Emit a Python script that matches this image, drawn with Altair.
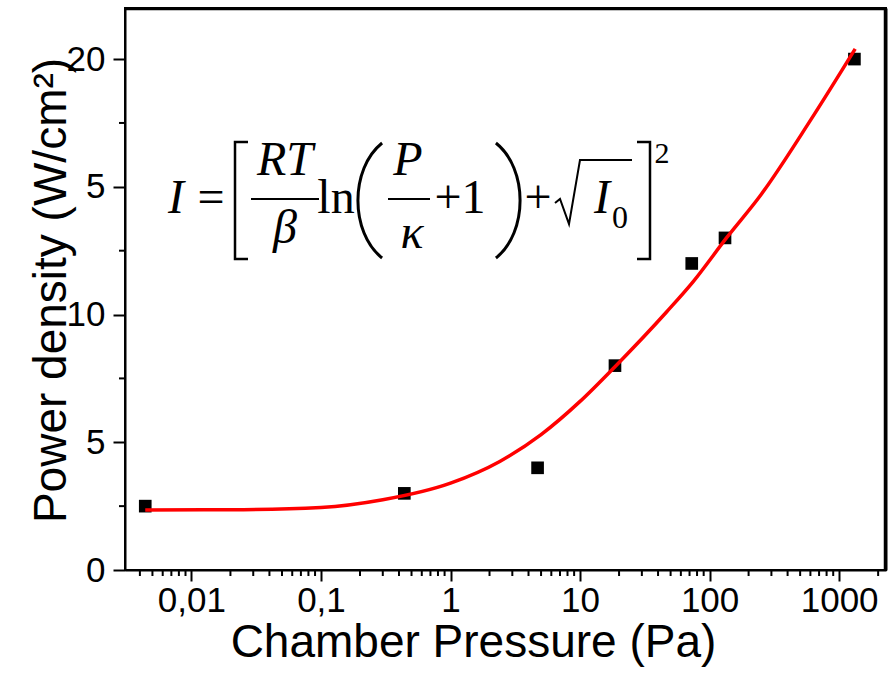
import altair as alt
import pandas as pd

# ---- measured data points ----
pressure = [0.0044, 0.44, 4.7, 18.6, 72.8, 131.5, 1312]
power = [2.5, 3.0, 4.0, 8.0, 12.0, 13.0, 20.0]

# ---- fitted curve ----
fit_pressure = [0.0044, 0.02, 0.1, 0.3, 1, 2.4, 5, 10, 18.6, 46.5, 75, 135, 250, 600, 1330]
fit_power = [2.35, 2.36, 2.45, 2.75, 3.4, 4.25, 5.3, 6.6, 7.96, 10.1, 11.3, 13.0, 14.7, 17.6, 20.4]

# ---- axis ticks / labels ----
x_major = [0.01, 0.1, 1, 10, 100, 1000]
x_major_labels = ["0,01", "0,1", "1", "10", "100", "1000"]
x_minor = [round(d * m, 6) for d in [0.001, 0.01, 0.1, 1, 10, 100, 1000] for m in range(2, 10)]
x_minor = [v for v in x_minor if 0.00307 <= v <= 2300]
y_major = [0, 5, 10, 15, 20]
y_major_labels = ["0", "5", "10", "5", "20"]
y_minor = [2.5, 7.5, 12.5, 17.5]

df_pts = pd.DataFrame({"pressure": pressure, "power": power})
df_fit = pd.DataFrame({"pressure": fit_pressure, "power": fit_power})

FONT = "Liberation Sans"
SERIF = "Liberation Serif"

x_label_expr = " : ".join(
    f"datum.value == {v} ? '{l}'" for v, l in zip(x_major, x_major_labels)
) + " : ''"
y_label_expr = " : ".join(
    f"datum.value == {v} ? '{l}'" for v, l in zip(y_major, y_major_labels)
) + " : ''"

x_scale = alt.Scale(type="log", domain=[0.00307, 2300], nice=False)
y_scale = alt.Scale(domain=[0, 22], nice=False, zero=False)

x_axis = alt.Axis(
    orient="bottom",
    values=x_major,
    labelExpr=x_label_expr,
    tickSize=11,
    labelPadding=2,
    labelFont=FONT, labelFontSize=35, labelColor="black",
    tickColor="black", tickWidth=2, domainColor="black", domainWidth=2,
    grid=False, labelFlush=False, labelOverlap=False,
    title="Chamber Pressure (Pa)", titleFont=FONT, titleFontSize=46,
    titleFontWeight="normal", titleColor="black",
    titleX=348, titleY=86, titleBaseline="alphabetic", titleAlign="center",
)
y_axis = alt.Axis(
    orient="left",
    values=y_major,
    labelExpr=y_label_expr,
    tickSize=12,
    labelPadding=8,
    labelFont=FONT, labelFontSize=35, labelColor="black",
    tickColor="black", tickWidth=2, domainColor="black", domainWidth=2,
    grid=False, labelFlush=False, labelOverlap=False,
    title="Power density (W/cm²)", titleFont=FONT, titleFontSize=46,
    titleFontWeight="normal", titleColor="black",
    titleX=-60, titleY=282, titleBaseline="alphabetic", titleAlign="center", titleAngle=270,
)

points = alt.Chart(df_pts).mark_square(size=160, color="black", opacity=1).encode(
    x=alt.X("pressure:Q", scale=x_scale, axis=x_axis),
    y=alt.Y("power:Q", scale=y_scale, axis=y_axis),
)
fit = alt.Chart(df_fit).mark_line(color="red", strokeWidth=3.5, interpolate="monotone").encode(
    x=alt.X("pressure:Q", scale=x_scale, axis=None),
    y=alt.Y("power:Q", scale=y_scale, axis=None),
)

# frame: top and right axes with only their domain lines
frame_axes = alt.Chart(df_pts).mark_point(opacity=0).encode(
    x=alt.X("pressure:Q", scale=x_scale, axis=alt.Axis(
        orient="top", labels=False, ticks=False, grid=False, title="",
        domainColor="black", domainWidth=2)),
    y=alt.Y("power:Q", scale=y_scale, axis=alt.Axis(
        orient="right", labels=False, ticks=False, grid=False, title="",
        domainColor="black", domainWidth=2)),
)

# minor ticks, placed through the axis scales
x_minor_ticks = alt.Chart(pd.DataFrame({"pressure": x_minor})).mark_rule(
    color="black", strokeWidth=2
).encode(x=alt.X("pressure:Q", scale=x_scale, axis=None), y=alt.value(562), y2=alt.value(568))
y_minor_ticks = alt.Chart(pd.DataFrame({"power": y_minor})).mark_rule(
    color="black", strokeWidth=2
).encode(y=alt.Y("power:Q", scale=y_scale, axis=None), x=alt.value(-6), x2=alt.value(0))

one = pd.DataFrame({"k": [0]})

frame_top = alt.Chart(one).mark_rule(color="black", strokeWidth=2.5).encode(
    x=alt.value(0), x2=alt.value(761), y=alt.value(1)
)
frame_right = alt.Chart(one).mark_rule(color="black", strokeWidth=2.5).encode(
    x=alt.value(760), y=alt.value(0), y2=alt.value(562)
)


def txt(s, x, y, size=48, italic=False):
    return alt.Chart(one).mark_text(
        text=s, font=SERIF, fontSize=size, fontStyle="italic" if italic else "normal",
        align="center", baseline="alphabetic", color="black",
    ).encode(x=alt.value(x), y=alt.value(y))


def shape(path, x, y, side, sw=2.5):
    return alt.Chart(one).mark_point(
        shape=path, filled=False, stroke="black", strokeWidth=sw, opacity=1,
    ).encode(x=alt.value(x), y=alt.value(y), size=alt.value(side * side))


def bar(x1, x2, y):
    return alt.Chart(one).mark_rule(color="black", strokeWidth=2).encode(
        x=alt.value(x1), x2=alt.value(x2), y=alt.value(y)
    )


equation = [
    txt("I", 51, 205, italic=True),
    txt("=", 86, 205),
    shape("M 0.111 -1 L -0.111 -1 L -0.111 1 L 0.111 1", 116.5, 192.5, 117),
    txt("RT", 160, 167, italic=True),
    bar(126, 194, 191),
    txt("β", 160, 235, italic=True),
    txt("ln", 211, 205),
    shape("M 0.21 -1 C -0.35 -0.55 -0.35 0.55 0.21 1", 245, 192.5, 115, 3),
    txt("P", 283, 167, italic=True),
    bar(263, 305, 191),
    txt("κ", 287, 240, italic=True),
    txt("+1", 335, 205),
    shape("M -0.21 -1 C 0.35 -0.55 0.35 0.55 -0.21 1", 383, 192.5, 115, 3),
    txt("+", 413, 205),
    shape("M -1 0.286 L -0.870 0.182 L -0.636 0.831 L -0.351 -0.831 L 1 -0.831", 468.5, 184, 77, 2),
    txt("I", 477, 205, italic=True),
    txt("0", 495, 220, size=32),
    shape("M -0.111 -1 L 0.111 -1 L 0.111 1 L -0.111 1", 518.5, 192.5, 117),
    txt("2", 537, 155, size=30),
]

chart = alt.layer(
    frame_top, frame_right, frame_axes, points, fit, x_minor_ticks, y_minor_ticks, *equation
).resolve_axis(x="independent", y="independent").properties(
    width=761, height=562,
    background="white",
    autosize=alt.AutoSizeParams(type="none"),
    padding={"left": 125, "top": 8, "right": 3, "bottom": 118},
).configure_view(stroke="black", strokeWidth=2)

chart.save("out.html", embed_options={"renderer": "svg", "actions": False})
